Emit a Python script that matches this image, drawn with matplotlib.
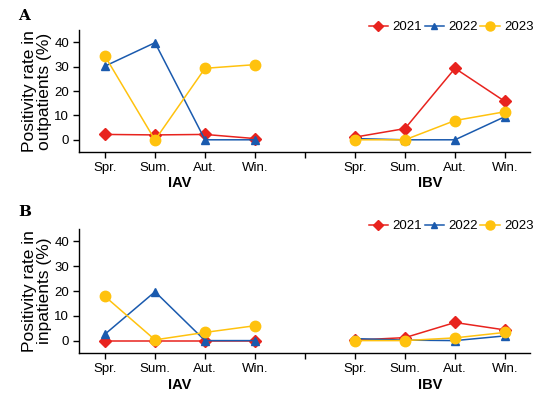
import matplotlib.pyplot as plt
from matplotlib.lines import Line2D

plt.rcParams['font.family'] = ['Liberation Sans', 'DejaVu Sans']

SEASONS = ['Spr.', 'Sum.', 'Aut.', 'Win.']
YEARS = ['2021', '2022', '2023']
COLORS = {'2021': '#E8231E', '2022': '#1A5AAE', '2023': '#FFC20E'}
MARKERS = {'2021': 'D', '2022': '^', '2023': 'o'}
MSIZE = {'2021': 6.5, '2022': 6, '2023': 7.5}

# outpatients (panel A)
OUT_IAV = {'2021': [2.2, 2.0, 2.2, 0.5],
           '2022': [30.2, 39.8, 0, 0],
           '2023': [34.3, -0.1, 29.3, 30.8]}
OUT_IBV = {'2021': [1.1, 4.6, 29.3, 15.7],
           '2022': [0.5, 0, 0, 9.5],
           '2023': [0, 0, 7.9, 11.5]}
# inpatients (panel B)
IN_IAV = {'2021': [0, 0, 0, 0],
          '2022': [2.6, 19.7, 0, 0],
          '2023': [17.8, 0.3, 3.3, 6.0]}
IN_IBV = {'2021': [0.2, 1.2, 7.3, 4.3],
          '2022': [0.8, 0.2, 0, 1.9],
          '2023': [0, 0, 1.1, 3.3]}

IAV_X = [1, 2, 3, 4]
IBV_X = [6, 7, 8, 9]

fig = plt.figure(figsize=(5.5, 3.98), dpi=100)
W, H = 550, 398
axA = fig.add_axes([79 / W, 1 - 152 / H, (530 - 79) / W, (152 - 30) / H])
axB = fig.add_axes([79 / W, 1 - 353 / H, (530 - 79) / W, (353 - 229) / H])


def draw(ax, iav, ibv, ylabel):
    for y in YEARS:
        for xs, vals in [(IAV_X, iav[y]), (IBV_X, ibv[y])]:
            ax.plot(xs, vals, color=COLORS[y], marker=MARKERS[y],
                    markersize=MSIZE[y], linewidth=1.1, clip_on=False)
    ax.set_xlim(0.48, 9.5)
    ax.set_ylim(-5, 45)
    ax.set_yticks([0, 10, 20, 30, 40])
    ax.set_xticks(range(1, 10))
    ax.set_xticklabels(SEASONS + [''] + SEASONS)
    ax.spines['top'].set_visible(False)
    ax.spines['right'].set_visible(False)
    for s in ['left', 'bottom']:
        ax.spines[s].set_linewidth(1.0)
    ax.tick_params(labelsize=9.5, length=4, width=1, pad=3)
    ax.set_ylabel(ylabel, fontsize=12.5, linespacing=1.0, labelpad=2)
    ax.text(2.5, -0.2, 'IAV', transform=ax.get_xaxis_transform(),
            ha='center', va='top', fontsize=10.5, fontweight='bold')
    ax.text(7.5, -0.2, 'IBV', transform=ax.get_xaxis_transform(),
            ha='center', va='top', fontsize=10.5, fontweight='bold')
    handles = [Line2D([], [], color=COLORS[y], marker=MARKERS[y],
                      markersize=MSIZE[y] - 1, linewidth=1.1) for y in YEARS]
    ax.legend(handles, YEARS, loc='lower right', bbox_to_anchor=(1.02, 0.93),
              ncol=3, frameon=False, fontsize=9.5, handlelength=1.5,
              handletextpad=0.3, columnspacing=0.2, borderaxespad=0)


draw(axA, OUT_IAV, OUT_IBV, 'Positivity rate in\noutpatients (%)')
draw(axB, IN_IAV, IN_IBV, 'Positivity rate in\ninpatients (%)')

fig.text(18 / W, 1 - 16 / H, 'A', fontsize=11, fontweight='bold',
         family='DejaVu Serif', ha='left', va='center')
fig.text(18 / W, 1 - 212 / H, 'B', fontsize=11, fontweight='bold',
         family='DejaVu Serif', ha='left', va='center')

fig.savefig('out.png', dpi=100)
